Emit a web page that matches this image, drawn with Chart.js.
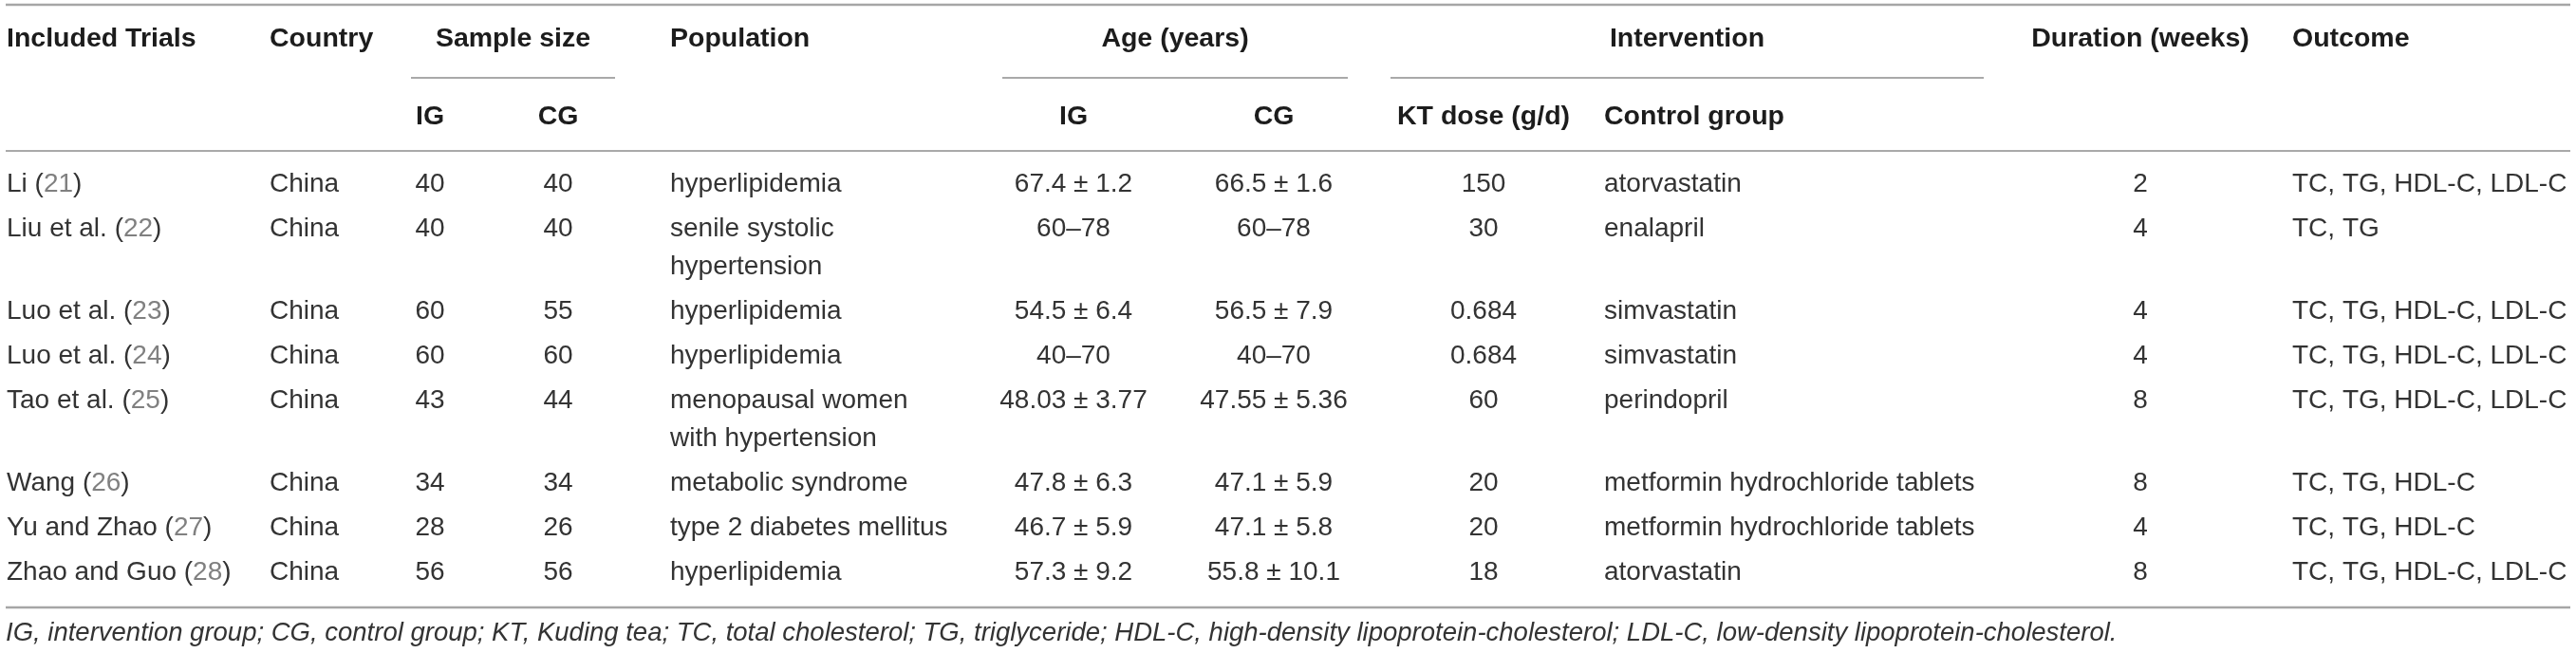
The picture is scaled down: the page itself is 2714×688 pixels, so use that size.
<!DOCTYPE html>
<html>
<head>
<meta charset="utf-8">
<script src="https://cdn.jsdelivr.net/npm/chart.js@4.4.1/dist/chart.umd.min.js"></script>
<style>
html,body{margin:0;padding:0;background:#ffffff;}
#wrap{width:2714px;height:688px;position:relative;}
</style>
</head>
<body>
<div id="wrap"><canvas id="c"></canvas></div>
<script>
// ---------- DATA ----------
const trialAuthors = ["Li", "Liu et al.", "Luo et al.", "Luo et al.", "Tao et al.", "Wang", "Yu and Zhao", "Zhao and Guo"];
const trialRefs = [21, 22, 23, 24, 25, 26, 27, 28];
const countries = ["China", "China", "China", "China", "China", "China", "China", "China"];
const sampleIG = [40, 40, 60, 60, 43, 34, 28, 56];
const sampleCG = [40, 40, 55, 60, 44, 34, 26, 56];
const populations = ["hyperlipidemia", "senile systolic\nhypertension", "hyperlipidemia", "hyperlipidemia",
  "menopausal women\nwith hypertension", "metabolic syndrome", "type 2 diabetes mellitus", "hyperlipidemia"];
const ageIG = ["67.4 \u00b1 1.2", "60\u201378", "54.5 \u00b1 6.4", "40\u201370", "48.03 \u00b1 3.77", "47.8 \u00b1 6.3", "46.7 \u00b1 5.9", "57.3 \u00b1 9.2"];
const ageCG = ["66.5 \u00b1 1.6", "60\u201378", "56.5 \u00b1 7.9", "40\u201370", "47.55 \u00b1 5.36", "47.1 \u00b1 5.9", "47.1 \u00b1 5.8", "55.8 \u00b1 10.1"];
const ktDose = ["150", "30", "0.684", "0.684", "60", "20", "20", "18"];
const controlGroups = ["atorvastatin", "enalapril", "simvastatin", "simvastatin", "perindopril",
  "metformin hydrochloride tablets", "metformin hydrochloride tablets", "atorvastatin"];
const durationWeeks = [2, 4, 4, 4, 8, 8, 4, 8];
const outcomes = ["TC, TG, HDL-C, LDL-C", "TC, TG", "TC, TG, HDL-C, LDL-C", "TC, TG, HDL-C, LDL-C",
  "TC, TG, HDL-C, LDL-C", "TC, TG, HDL-C", "TC, TG, HDL-C", "TC, TG, HDL-C, LDL-C"];
const headerMain = ["Included Trials", "Country", "Sample size", "Population", "Age (years)", "Intervention", "Duration (weeks)", "Outcome"];
const headerSub = ["IG", "CG", "IG", "CG", "KT dose (g/d)", "Control group"];
const footnote = "IG, intervention group; CG, control group; KT, Kuding tea; TC, total cholesterol; TG, triglyceride; HDL-C, high-density lipoprotein-cholesterol; LDL-C, low-density lipoprotein-cholesterol.";

// ---------- LAYOUT (scale units) ----------
const L = {
  W: 2714, H: 688,
  left: 6, right: 2708,
  col: { trial: 7, country: 284, sIG: 453, sCG: 588, pop: 706, aIG: 1131, aCG: 1342, kt: 1563, ctrl: 1690, dur: 2255, out: 2415 },
  grp: { sample: [433, 648], age: [1056, 1420], interv: [1465, 2090] },
  yTopRule: 5, yHead1: 41, yGroupRule: 82, yHead2: 123, yHeadRule: 159,
  yFirstRow: 194, rowStep: 47, lineStep: 40, yBottomRule: 640, yFoot: 667,
  fontReg: '28px "Liberation Sans", Arial, sans-serif',
  fontBold: 'bold 28.5px "Liberation Sans", Arial, sans-serif',
  fontIt: 'italic 27.5px "Liberation Sans", Arial, sans-serif',
  text: '#333333', head: '#1c1c1c', ref: '#808080'
};

// row positions derived from the number of text lines in each row
const rowY = [];
(function(){
  let y = L.yFirstRow;
  for (let i = 0; i < trialAuthors.length; i++) {
    rowY.push(y);
    const n = populations[i].split('\n').length;
    y += L.rowStep + L.lineStep * (n - 1);
  }
})();

// rules as line datasets
function rule(x1, x2, y, color, w) {
  return { type: 'line', data: [{x: x1, y: y}, {x: x2, y: y}], borderColor: color, borderWidth: w,
    pointRadius: 0, showLine: true, fill: false, tension: 0 };
}
const datasets = [
  rule(L.left, L.right, L.yTopRule, '#a6a6a6', 2.5),
  rule(L.grp.sample[0], L.grp.sample[1], L.yGroupRule, '#8c8c8c', 1.5),
  rule(L.grp.age[0], L.grp.age[1], L.yGroupRule, '#8c8c8c', 1.5),
  rule(L.grp.interv[0], L.grp.interv[1], L.yGroupRule, '#8c8c8c', 1.5),
  rule(L.left, L.right, L.yHeadRule, '#8c8c8c', 1.5),
  rule(L.left, L.right, L.yBottomRule, '#a6a6a6', 2.5)
];

const tablePlugin = {
  id: 'tableText',
  afterDatasetsDraw(chart) {
    const ctx = chart.ctx, xs = chart.scales.x, ys = chart.scales.y;
    const X = v => xs.getPixelForValue(v), Y = v => ys.getPixelForValue(v);
    function put(str, xv, yv, align, font, color) {
      ctx.font = font; ctx.fillStyle = color; ctx.textAlign = align; ctx.textBaseline = 'middle';
      ctx.fillText(str, X(xv), Y(yv));
    }
    ctx.save();
    const c = L.col, g = L.grp;
    // header row 1
    put(headerMain[0], c.trial, L.yHead1, 'left', L.fontBold, L.head);
    put(headerMain[1], c.country, L.yHead1, 'left', L.fontBold, L.head);
    put(headerMain[2], (g.sample[0] + g.sample[1]) / 2, L.yHead1, 'center', L.fontBold, L.head);
    put(headerMain[3], c.pop, L.yHead1, 'left', L.fontBold, L.head);
    put(headerMain[4], (g.age[0] + g.age[1]) / 2, L.yHead1, 'center', L.fontBold, L.head);
    put(headerMain[5], (g.interv[0] + g.interv[1]) / 2, L.yHead1, 'center', L.fontBold, L.head);
    put(headerMain[6], c.dur, L.yHead1, 'center', L.fontBold, L.head);
    put(headerMain[7], c.out, L.yHead1, 'left', L.fontBold, L.head);
    // header row 2
    put(headerSub[0], c.sIG, L.yHead2, 'center', L.fontBold, L.head);
    put(headerSub[1], c.sCG, L.yHead2, 'center', L.fontBold, L.head);
    put(headerSub[2], c.aIG, L.yHead2, 'center', L.fontBold, L.head);
    put(headerSub[3], c.aCG, L.yHead2, 'center', L.fontBold, L.head);
    put(headerSub[4], c.kt, L.yHead2, 'center', L.fontBold, L.head);
    put(headerSub[5], c.ctrl, L.yHead2, 'left', L.fontBold, L.head);
    // body
    for (let i = 0; i < trialAuthors.length; i++) {
      const y = rowY[i];
      ctx.font = L.fontReg; ctx.textBaseline = 'middle'; ctx.textAlign = 'left';
      let px = X(c.trial);
      const p1 = trialAuthors[i] + ' (', p2 = String(trialRefs[i]), p3 = ')';
      ctx.fillStyle = L.text; ctx.fillText(p1, px, Y(y)); px += ctx.measureText(p1).width;
      ctx.fillStyle = L.ref; ctx.fillText(p2, px, Y(y)); px += ctx.measureText(p2).width;
      ctx.fillStyle = L.text; ctx.fillText(p3, px, Y(y));
      put(countries[i], c.country, y, 'left', L.fontReg, L.text);
      put(String(sampleIG[i]), c.sIG, y, 'center', L.fontReg, L.text);
      put(String(sampleCG[i]), c.sCG, y, 'center', L.fontReg, L.text);
      populations[i].split('\n').forEach((ln, k) => put(ln, c.pop, y + k * L.lineStep, 'left', L.fontReg, L.text));
      put(ageIG[i], c.aIG, y, 'center', L.fontReg, L.text);
      put(ageCG[i], c.aCG, y, 'center', L.fontReg, L.text);
      put(ktDose[i], c.kt, y, 'center', L.fontReg, L.text);
      put(controlGroups[i], c.ctrl, y, 'left', L.fontReg, L.text);
      put(String(durationWeeks[i]), c.dur, y, 'center', L.fontReg, L.text);
      put(outcomes[i], c.out, y, 'left', L.fontReg, L.text);
    }
    put(footnote, L.left, L.yFoot, 'left', L.fontIt, L.text);
    ctx.restore();
  }
};

new Chart(document.getElementById('c'), {
  type: 'scatter',
  data: { datasets: datasets },
  options: {
    responsive: true, maintainAspectRatio: false, animation: false, devicePixelRatio: 1,
    layout: { padding: 0 },
    plugins: { legend: { display: false }, tooltip: { enabled: false } },
    events: [],
    scales: {
      x: { type: 'linear', min: 0, max: L.W, display: false },
      y: { type: 'linear', min: 0, max: L.H, reverse: true, display: false }
    }
  },
  plugins: [tablePlugin]
});
</script>
</body>
</html>
